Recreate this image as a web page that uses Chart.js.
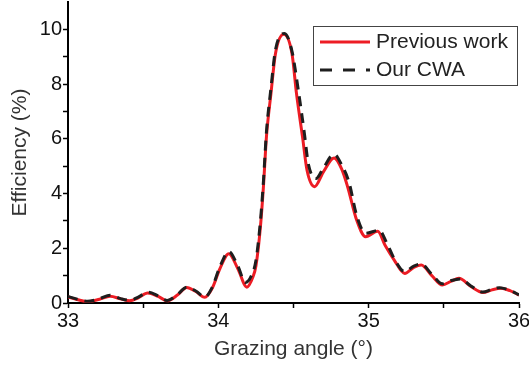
<!DOCTYPE html>
<html>
<head>
<meta charset="utf-8">
<script src="https://cdn.jsdelivr.net/npm/chart.js@4"></script>
<style>
html,body{margin:0;padding:0;background:#fff;}
#wrap{position:relative;width:529px;height:366px;}
</style>
</head>
<body>
<div id="wrap"><canvas id="c" width="529" height="366"></canvas></div>
<script>
// Grazing angle (deg) and efficiency (%)
const prevX = [33.00,33.06,33.13,33.21,33.28,33.35,33.41,33.47,33.53,33.60,33.66,33.73,33.79,33.85,33.91,33.96,34.01,34.07,34.13,34.19,34.23,34.25,34.28,34.30,34.32,34.35,34.38,34.435,34.49,34.52,34.56,34.59,34.64,34.70,34.77,34.82,34.86,34.92,34.98,35.06,35.11,35.17,35.24,35.30,35.35,35.42,35.49,35.55,35.60,35.68,35.76,35.82,35.88,35.94,36.00];
const prevY = [0.22,0.13,0.05,0.14,0.25,0.15,0.08,0.20,0.37,0.24,0.08,0.30,0.57,0.42,0.21,0.55,1.25,1.80,1.25,0.58,0.95,1.35,2.78,4.25,6.07,7.65,9.11,9.82,9.11,7.65,6.07,4.85,4.25,4.80,5.30,4.90,4.25,3.03,2.42,2.62,2.10,1.57,1.08,1.30,1.39,1.00,0.66,0.80,0.90,0.60,0.38,0.48,0.54,0.45,0.29];
const cwaX = [33.00,33.06,33.13,33.21,33.28,33.35,33.41,33.47,33.53,33.60,33.66,33.73,33.79,33.85,33.91,33.96,34.01,34.07,34.13,34.18,34.22,34.25,34.28,34.30,34.32,34.35,34.38,34.44,34.49,34.53,34.57,34.60,34.65,34.70,34.77,34.82,34.87,34.92,34.98,35.07,35.12,35.17,35.24,35.30,35.35,35.42,35.49,35.55,35.61,35.68,35.76,35.82,35.87,35.94,36.00];
const cwaY = [0.24,0.14,0.06,0.16,0.28,0.16,0.10,0.22,0.40,0.26,0.09,0.32,0.58,0.44,0.22,0.58,1.32,1.88,1.35,0.75,1.00,1.55,3.00,4.45,6.25,7.85,9.25,9.85,9.20,7.85,6.30,5.05,4.55,4.95,5.44,5.05,4.40,3.20,2.55,2.66,2.20,1.62,1.15,1.35,1.42,1.05,0.70,0.82,0.88,0.62,0.40,0.50,0.56,0.46,0.30];
const seriesNames = ['Previous work','Our CWA'];
const xTickValues = [33,33.5,34,34.5,35,35.5,36];
const xTickLabels = ['33','','34','','35','','36'];
const yTickValues = [0,1,2,3,4,5,6,7,8,9,10];
const yTickLabels = ['0','','2','','4','','6','','8','','10'];

const RED = '#ed1c24';
const BLACK = '#1e1e1e';
const FONT = "'Liberation Sans', Arial, sans-serif";

const toPts = (xs, ys) => xs.map((x, i) => ({x: x, y: ys[i]}));

const legendPlugin = {
  id: 'boxLegend',
  afterDraw(chart) {
    const ctx = chart.ctx;
    ctx.save();
    ctx.strokeStyle = '#444';
    ctx.lineWidth = 1;
    ctx.strokeRect(313.5, 26.5, 204, 59);
    ctx.lineWidth = 3;
    ctx.strokeStyle = RED;
    ctx.beginPath(); ctx.moveTo(320, 42); ctx.lineTo(370, 42); ctx.stroke();
    ctx.strokeStyle = BLACK;
    ctx.setLineDash([12, 11]);
    ctx.beginPath(); ctx.moveTo(320, 70); ctx.lineTo(370, 70); ctx.stroke();
    ctx.setLineDash([]);
    ctx.fillStyle = '#222';
    ctx.font = '21px ' + FONT;
    ctx.textBaseline = 'middle';
    ctx.fillText(seriesNames[0], 376, 42);
    ctx.fillText(seriesNames[1], 376, 70);
    ctx.restore();
  }
};

new Chart(document.getElementById('c'), {
  type: 'line',
  data: {
    datasets: [
      {
        label: seriesNames[1],
        data: toPts(cwaX, cwaY),
        borderColor: BLACK,
        borderWidth: 3,
        borderDash: [10, 7],
        pointRadius: 0,
        cubicInterpolationMode: 'monotone',
        fill: false,
        order: 0
      },
      {
        label: seriesNames[0],
        data: toPts(prevX, prevY),
        borderColor: RED,
        borderWidth: 3,
        pointRadius: 0,
        cubicInterpolationMode: 'monotone',
        fill: false,
        order: 1
      }
    ]
  },
  options: {
    responsive: false,
    animation: false,
    events: [],
    layout: {padding: {top: 2, right: 10, left: 0, bottom: 0}},
    plugins: {legend: {display: false}, tooltip: {enabled: false}},
    scales: {
      x: {
        type: 'linear',
        min: 33, max: 36,
        afterBuildTicks: (s) => { s.ticks = xTickValues.map(v => ({value: v})); },
        afterFit: (s) => { s.height = 63; s.paddingLeft = 0; s.paddingRight = 0; },
        border: {display: true, color: '#000', width: 2},
        grid: {drawOnChartArea: false, drawTicks: true, tickLength: 5, color: '#000', tickWidth: 1.5},
        ticks: {
          autoSkip: false, maxRotation: 0, padding: 1,
          color: '#111', font: {family: FONT, size: 20},
          callback: (v, i) => xTickLabels[i]
        },
        title: {display: true, text: 'Grazing angle (°)', color: '#333', font: {family: FONT, size: 21}, padding: {top: 0, bottom: 4}}
      },
      y: {
        type: 'linear',
        min: 0, max: 11,
        afterBuildTicks: (s) => { s.ticks = yTickValues.map(v => ({value: v})); },
        afterFit: (s) => { s.width = 68; s.paddingTop = 0; s.paddingBottom = 0; },
        border: {display: true, color: '#000', width: 2},
        grid: {drawOnChartArea: false, drawTicks: true, tickLength: 5, tickWidth: 1.5, color: '#000'},
        ticks: {
          autoSkip: false, padding: 1,
          color: '#111', font: {family: FONT, size: 20},
          callback: (v, i) => yTickLabels[i]
        },
        title: {display: true, text: 'Efficiency (%)', color: '#333', font: {family: FONT, size: 21}, padding: {top: 8, bottom: 4}}
      }
    }
  },
  plugins: [legendPlugin]
});
</script>
</body>
</html>
